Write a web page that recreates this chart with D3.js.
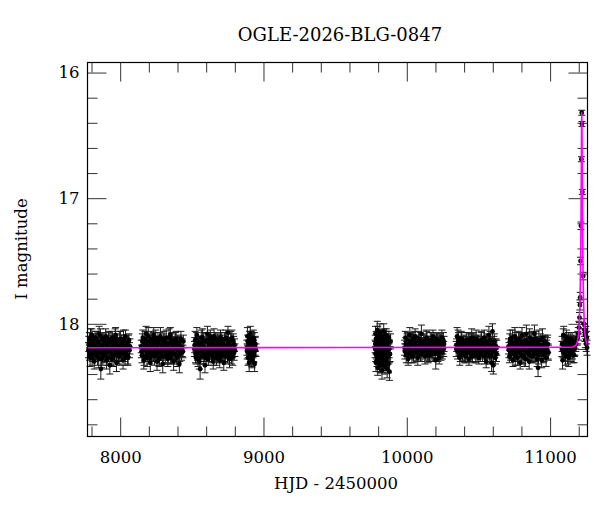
<!DOCTYPE html>
<html>
<head>
<meta charset="utf-8">
<script src="https://cdn.jsdelivr.net/npm/d3@7"></script>
<style>
  body { margin: 0; background: #fff; }
</style>
</head>
<body>
<svg id="chart" width="600" height="512"></svg>
<script>
// photometry: HJD - 2450000, I mag, error (season by season)
var hjd = [
  // 2017
  7779, 7785, 7790, 7796, 7802, 7807, 7813, 7819, 7825, 7830,
  7836, 7842, 7848, 7853, 7859, 7865, 7871, 7876, 7882, 7888,
  7894, 7899, 7905, 7911, 7917, 7922, 7928, 7934, 7940, 7945,
  7951, 7957, 7963, 7968, 7974, 7980, 7986, 7991, 7997, 8003,
  8009, 8014, 8020, 8026, 8032, 8037, 8043, 8049, 8055, 8061, 8068,
  // 2018
  8147, 8152, 8158, 8165, 8170, 8176, 8181, 8188, 8193, 8199,
  8205, 8210, 8216, 8223, 8228, 8234, 8239, 8246, 8251, 8257,
  8263, 8268, 8274, 8281, 8286, 8292, 8297, 8304, 8309, 8315,
  8321, 8326, 8332, 8339, 8344, 8350, 8355, 8362, 8367, 8373,
  8379, 8384, 8390, 8397, 8402, 8408, 8413, 8420, 8428, 8441,
  // 2019
  8518, 8523, 8529, 8535, 8540, 8546, 8552, 8558, 8563, 8569,
  8575, 8580, 8586, 8592, 8598, 8603, 8609, 8615, 8620, 8626,
  8632, 8638, 8643, 8649, 8655, 8660, 8666, 8672, 8678, 8683,
  8689, 8695, 8700, 8706, 8712, 8718, 8723, 8729, 8735, 8740,
  8746, 8752, 8756, 8763, 8769, 8775, 8780, 8786, 8792, 8801,
  // 2020
  8884, 8888, 8892, 8896, 8900, 8904, 8908, 8912, 8916, 8920,
  8924, 8929, 8933, 8938, 8943, 8948,
  // 2022
  9779, 9782, 9785, 9788, 9791, 9794, 9797, 9800, 9803, 9806,
  9809, 9812, 9815, 9818, 9821, 9824, 9827, 9830, 9833, 9836,
  9839, 9842, 9845, 9848, 9851, 9854, 9857, 9860, 9863, 9866,
  9869, 9872, 9875, 9879, 9883, 9887,
  // 2023
  9984, 9990, 9996, 10002, 10009, 10015, 10021, 10027, 10033, 10040,
  10046, 10052, 10058, 10065, 10071, 10077, 10083, 10090, 10096, 10102,
  10108, 10115, 10121, 10127, 10133, 10139, 10146, 10152, 10158, 10164,
  10171, 10177, 10183, 10189, 10195, 10202, 10208, 10214, 10220, 10226,
  10233, 10239, 10245, 10252, 10260,
  // 2024
  10345, 10351, 10358, 10364, 10370, 10377, 10383, 10389, 10396, 10402,
  10408, 10415, 10421, 10427, 10434, 10440, 10446, 10453, 10459, 10465,
  10472, 10478, 10484, 10491, 10497, 10503, 10510, 10516, 10522, 10529,
  10535, 10541, 10548, 10554, 10560, 10567, 10573, 10579, 10586, 10592,
  10598, 10604, 10611, 10618, 10628,
  // 2025
  10710, 10716, 10722, 10729, 10735, 10741, 10747, 10754, 10760, 10766,
  10772, 10779, 10785, 10791, 10797, 10804, 10810, 10816, 10822, 10829,
  10835, 10841, 10847, 10854, 10860, 10866, 10872, 10879, 10885, 10891,
  10897, 10904, 10910, 10916, 10922, 10929, 10935, 10941, 10947, 10954,
  10960, 10966, 10972, 10980, 10988,
  // 2026 baseline
  11082, 11087, 11092, 11098, 11103, 11108, 11114, 11119, 11124, 11130,
  11135, 11140, 11146, 11151, 11156, 11162, 11167, 11173, 11180, 11188,
  // 2026 event
  11193, 11197, 11201, 11205, 11208, 11210, 11212.5, 11215.2, 11218.5, 11221,
  11222, 11225, 11231, 11236, 11240, 11243, 11246, 11249, 11252, 11255, 11258
];

var mag = [
  18.21, 18.12, 18.27, 18.17, 18.09, 18.24, 18.15, 18.30, 18.11, 18.22,
  18.19, 18.26, 18.14, 18.08, 18.23, 18.36, 18.28, 18.12, 18.20, 18.25,
  18.15, 18.10, 18.29, 18.18, 18.22, 18.13, 18.33, 18.19, 18.24, 18.11,
  18.27, 18.16, 18.21, 18.09, 18.31, 18.14, 18.23, 18.18, 18.26, 18.12,
  18.20, 18.17, 18.29, 18.15, 18.24, 18.10, 18.22, 18.19, 18.27, 18.13, 18.18,

  18.18, 18.25, 18.11, 18.29, 18.16, 18.21, 18.08, 18.27, 18.14, 18.23,
  18.19, 18.31, 18.12, 18.24, 18.17, 18.09, 18.26, 18.15, 18.22, 18.30,
  18.13, 18.20, 18.27, 18.10, 18.23, 18.18, 18.32, 18.14, 18.21, 18.26,
  18.11, 18.19, 18.28, 18.16, 18.22, 18.09, 18.25, 18.13, 18.20, 18.30,
  18.17, 18.24, 18.12, 18.27, 18.15, 18.21, 18.32, 18.18, 18.23, 18.14,

  18.20, 18.13, 18.27, 18.09, 18.23, 18.17, 18.30, 18.36, 18.15, 18.22,
  18.11, 18.26, 18.19, 18.33, 18.14, 18.24, 18.08, 18.28, 18.18, 18.21,
  18.12, 18.25, 18.16, 18.30, 18.10, 18.23, 18.19, 18.27, 18.13, 18.22,
  18.17, 18.29, 18.11, 18.24, 18.15, 18.20, 18.31, 18.12, 18.26, 18.18,
  18.22, 18.07, 18.14, 18.28, 18.19, 18.23, 18.11, 18.26, 18.16, 18.21,

  18.19, 18.10, 18.27, 18.15, 18.31, 18.22, 18.08, 18.25, 18.13, 18.29,
  18.18, 18.11, 18.24, 18.32, 18.16, 18.21,

  18.20, 18.08, 18.31, 18.14, 18.26, 18.05, 18.35, 18.18, 18.11, 18.29,
  18.23, 18.07, 18.33, 18.16, 18.27, 18.10, 18.37, 18.21, 18.13, 18.30,
  18.06, 18.25, 18.17, 18.34, 18.12, 18.28, 18.09, 18.22, 18.36, 18.15,
  18.19, 18.32, 18.11, 18.38, 18.24, 18.14,

  18.19, 18.11, 18.25, 18.15, 18.28, 18.20, 18.09, 18.23, 18.17, 18.13,
  18.26, 18.18, 18.10, 18.22, 18.15, 18.27, 18.12, 18.20, 18.24, 18.08,
  18.17, 18.21, 18.14, 18.26, 18.19, 18.11, 18.23, 18.16, 18.25, 18.13,
  18.20, 18.18, 18.10, 18.24, 18.15, 18.29, 18.12, 18.21, 18.17, 18.27,
  18.14, 18.22, 18.11, 18.19, 18.16,

  18.20, 18.10, 18.11, 18.15, 18.27, 18.18, 18.12, 18.22, 18.16, 18.25,
  18.19, 18.13, 18.23, 18.17, 18.28, 18.14, 18.21, 18.11, 18.26, 18.18,
  18.15, 18.22, 18.12, 18.24, 18.19, 18.27, 18.16, 18.21, 18.13, 18.25,
  18.18, 18.11, 18.23, 18.30, 18.15, 18.20, 18.09, 18.26, 18.17, 18.31,
  18.06, 18.33, 18.14, 18.27, 18.19,

  18.18, 18.26, 18.12, 18.22, 18.15, 18.29, 18.19, 18.10, 18.24, 18.16,
  18.27, 18.13, 18.21, 18.31, 18.17, 18.09, 18.25, 18.20, 18.14, 18.28,
  18.08, 18.23, 18.18, 18.30, 18.15, 18.21, 18.12, 18.26, 18.19, 18.08,
  18.24, 18.16, 18.28, 18.35, 18.13, 18.22, 18.18, 18.29, 18.11, 18.25,
  18.20, 18.15, 18.27, 18.17, 18.23,

  18.20, 18.29, 18.09, 18.23, 18.17, 18.26, 18.11, 18.21, 18.15, 18.27,
  18.19, 18.12, 18.24, 18.17, 18.22, 18.14, 18.25, 18.18, 18.16, 18.12,

  18.11, 18.08, 18.03, 17.95, 17.85, 17.79, 17.50, 17.22, 16.69, 16.32,
  16.41, 16.95, 17.62, 18.00, 18.05, 18.09, 18.13, 18.07, 18.16, 18.11, 18.19
];

var err = [
  .06, .05, .07, .06, .05, .06, .07, .06, .05, .06,
  .06, .07, .05, .06, .06, .08, .07, .05, .06, .06,
  .05, .06, .07, .06, .05, .06, .07, .06, .06, .05,
  .07, .06, .05, .06, .07, .06, .06, .05, .07, .06,
  .06, .05, .07, .06, .06, .05, .06, .07, .06, .05, .06,

  .05, .06, .06, .07, .05, .06, .06, .07, .06, .05,
  .06, .07, .06, .05, .06, .06, .07, .05, .06, .07,
  .06, .05, .06, .07, .06, .05, .07, .06, .05, .06,
  .06, .07, .06, .05, .06, .06, .07, .06, .05, .07,
  .06, .05, .06, .07, .06, .05, .07, .06, .06, .05,

  .06, .07, .05, .06, .06, .07, .06, .08, .05, .06,
  .07, .06, .05, .06, .07, .06, .06, .05, .07, .06,
  .05, .06, .07, .06, .06, .05, .07, .06, .05, .06,
  .07, .06, .06, .05, .06, .07, .06, .05, .06, .07,
  .06, .05, .06, .07, .06, .05, .06, .07, .06, .05,

  .06, .07, .06, .05, .07, .06, .06, .05, .07, .06,
  .05, .06, .07, .06, .06, .05,

  .07, .06, .07, .06, .05, .07, .06, .07, .06, .05,
  .06, .07, .06, .07, .06, .05, .07, .06, .06, .07,
  .06, .05, .07, .06, .06, .07, .05, .06, .07, .06,
  .06, .07, .05, .07, .06, .06,

  .06, .05, .06, .07, .05, .06, .06, .05, .07, .06,
  .05, .06, .06, .07, .05, .06, .06, .05, .06, .07,
  .06, .05, .06, .06, .07, .05, .06, .06, .05, .06,
  .07, .06, .05, .06, .06, .07, .05, .06, .06, .05,
  .06, .07, .06, .05, .06,

  .06, .07, .06, .05, .06, .06, .05, .07, .06, .06,
  .05, .06, .07, .06, .05, .06, .06, .07, .05, .06,
  .06, .05, .07, .06, .06, .05, .06, .07, .06, .05,
  .06, .06, .07, .05, .06, .06, .07, .06, .05, .07,
  .06, .07, .06, .05, .06,

  .06, .05, .07, .06, .06, .05, .06, .07, .06, .05,
  .06, .07, .06, .05, .06, .06, .07, .05, .06, .06,
  .07, .06, .05, .06, .07, .06, .06, .05, .06, .07,
  .06, .05, .06, .07, .08, .06, .05, .06, .07, .06,
  .06, .05, .07, .06, .06,

  .06, .07, .05, .06, .06, .07, .06, .05, .06, .07,
  .06, .05, .06, .07, .06, .05, .06, .07, .06, .05,

  .05, .05, .05, .04, .04, .04, .03, .03, .02, .02,
  .02, .02, .03, .04, .05, .05, .06, .05, .06, .05, .06
];

// second exposure of each night, same seasons
var hjdB = [
  7781, 7787, 7793, 7799, 7804, 7810, 7816, 7822, 7827, 7833,
  7839, 7845, 7850, 7856, 7862, 7868, 7873, 7879, 7885, 7891,
  7896, 7902, 7908, 7914, 7919, 7925, 7931, 7937, 7942, 7948,
  7954, 7960, 7965, 7971, 7977, 7983, 7988, 7994, 8000, 8006,
  8011, 8017, 8023, 8029, 8034, 8040, 8046, 8052, 8058, 8065,

  8149, 8155, 8161, 8167, 8173, 8179, 8184, 8190, 8196, 8202,
  8207, 8213, 8219, 8225, 8231, 8236, 8242, 8248, 8254, 8260,
  8265, 8271, 8277, 8283, 8289, 8294, 8300, 8306, 8312, 8318,
  8323, 8329, 8335, 8341, 8347, 8352, 8358, 8364, 8370, 8376,
  8381, 8387, 8393, 8399, 8405, 8410, 8416, 8424, 8433, 8438,

  8520, 8526, 8532, 8537, 8543, 8549, 8555, 8560, 8566, 8572,
  8578, 8583, 8589, 8595, 8600, 8606, 8612, 8618, 8623, 8629,
  8635, 8640, 8646, 8652, 8658, 8663, 8669, 8675, 8680, 8686,
  8692, 8698, 8703, 8709, 8715, 8720, 8726, 8732, 8738, 8743,
  8749, 8754, 8759, 8766, 8772, 8777, 8783, 8789, 8795, 8798,

  8886, 8890, 8894, 8898, 8902, 8906, 8910, 8914, 8918, 8922,
  8927, 8931, 8936, 8941,

  9780, 9783, 9786, 9789, 9792, 9795, 9798, 9801, 9804, 9807,
  9810, 9813, 9816, 9819, 9822, 9825, 9828, 9831, 9834, 9837,
  9840, 9843, 9846, 9849, 9852, 9855, 9858, 9861, 9864, 9867,
  9871, 9877,

  9987, 9993, 9999, 10005, 10012, 10018, 10024, 10030, 10036, 10043,
  10049, 10055, 10061, 10068, 10074, 10080, 10086, 10093, 10099, 10105,
  10111, 10118, 10124, 10130, 10136, 10142, 10149, 10155, 10161, 10167,
  10174, 10180, 10186, 10192, 10198, 10205, 10211, 10217, 10223, 10229,
  10236, 10242, 10248, 10255, 10258,

  10348, 10354, 10361, 10367, 10373, 10380, 10386, 10392, 10399, 10405,
  10411, 10418, 10424, 10430, 10437, 10443, 10449, 10456, 10462, 10468,
  10475, 10481, 10487, 10494, 10500, 10506, 10513, 10519, 10525, 10532,
  10538, 10544, 10551, 10557, 10563, 10570, 10576, 10582, 10589, 10595,
  10601, 10607, 10614, 10622, 10626,

  10713, 10719, 10725, 10732, 10738, 10744, 10750, 10757, 10763, 10769,
  10775, 10782, 10788, 10794, 10800, 10807, 10813, 10819, 10825, 10832,
  10838, 10844, 10850, 10857, 10863, 10869, 10875, 10882, 10888, 10894,
  10900, 10907, 10913, 10919, 10925, 10932, 10938, 10944, 10950, 10957,
  10963, 10969, 10975, 10983, 10986,

  11084, 11090, 11095, 11100, 11106, 11111, 11116, 11122, 11127, 11132,
  11138, 11143, 11148, 11154, 11159, 11165, 11170, 11176
];

var magB = [
  18.16, 18.24, 18.11, 18.20, 18.27, 18.14, 18.22, 18.18, 18.25, 18.12,
  18.21, 18.15, 18.28, 18.19, 18.10, 18.23, 18.17, 18.26, 18.13, 18.21,
  18.24, 18.16, 18.19, 18.27, 18.12, 18.22, 18.15, 18.20, 18.28, 18.14,
  18.18, 18.25, 18.11, 18.23, 18.17, 18.21, 18.26, 18.13, 18.19, 18.24,
  18.15, 18.22, 18.12, 18.18, 18.27, 18.16, 18.20, 18.25, 18.14, 18.21,

  18.22, 18.14, 18.19, 18.26, 18.12, 18.21, 18.17, 18.24, 18.10, 18.20,
  18.27, 18.15, 18.23, 18.18, 18.13, 18.25, 18.21, 18.11, 18.19, 18.24,
  18.16, 18.28, 18.13, 18.22, 18.17, 18.20, 18.26, 18.12, 18.18, 18.23,
  18.15, 18.21, 18.25, 18.11, 18.19, 18.27, 18.14, 18.22, 18.17, 18.24,
  18.20, 18.13, 18.26, 18.18, 18.21, 18.15, 18.24, 18.12, 18.19, 18.22,

  18.17, 18.24, 18.12, 18.21, 18.28, 18.15, 18.19, 18.26, 18.11, 18.22,
  18.18, 18.14, 18.25, 18.20, 18.27, 18.13, 18.21, 18.16, 18.24, 18.10,
  18.19, 18.23, 18.15, 18.27, 18.20, 18.12, 18.22, 18.17, 18.25, 18.14,
  18.21, 18.18, 18.26, 18.13, 18.23, 18.16, 18.20, 18.24, 18.11, 18.19,
  18.25, 18.15, 18.22, 18.18, 18.12, 18.27, 18.20, 18.14, 18.23, 18.17,

  18.22, 18.14, 18.20, 18.26, 18.12, 18.17, 18.23, 18.19, 18.28, 18.15,
  18.21, 18.25, 18.13, 18.18,

  18.16, 18.24, 18.12, 18.21, 18.29, 18.18, 18.09, 18.26, 18.14, 18.22,
  18.31, 18.17, 18.11, 18.25, 18.20, 18.33, 18.13, 18.23, 18.28, 18.15,
  18.19, 18.10, 18.27, 18.22, 18.16, 18.30, 18.13, 18.24, 18.18, 18.21,
  18.26, 18.20,

  18.22, 18.16, 18.20, 18.13, 18.24, 18.18, 18.14, 18.21, 18.26, 18.17,
  18.12, 18.22, 18.19, 18.15, 18.23, 18.18, 18.21, 18.13, 18.16, 18.24,
  18.20, 18.14, 18.19, 18.22, 18.12, 18.17, 18.25, 18.20, 18.15, 18.21,
  18.13, 18.23, 18.18, 18.16, 18.22, 18.19, 18.14, 18.24, 18.20, 18.15,
  18.21, 18.17, 18.23, 18.13, 18.20,

  18.17, 18.22, 18.14, 18.20, 18.25, 18.12, 18.19, 18.23, 18.15, 18.21,
  18.26, 18.16, 18.20, 18.13, 18.23, 18.18, 18.24, 18.15, 18.21, 18.12,
  18.19, 18.25, 18.17, 18.22, 18.14, 18.20, 18.24, 18.13, 18.19, 18.22,
  18.16, 18.26, 18.18, 18.14, 18.23, 18.17, 18.21, 18.13, 18.25, 18.19,
  18.22, 18.15, 18.20, 18.18, 18.24,

  18.21, 18.14, 18.24, 18.18, 18.11, 18.22, 18.16, 18.26, 18.13, 18.20,
  18.17, 18.23, 18.12, 18.19, 18.25, 18.15, 18.21, 18.27, 18.18, 18.13,
  18.22, 18.16, 18.24, 18.11, 18.20, 18.26, 18.17, 18.14, 18.23, 18.19,
  18.12, 18.21, 18.15, 18.25, 18.18, 18.13, 18.22, 18.17, 18.20, 18.24,
  18.14, 18.21, 18.19, 18.16, 18.22,

  18.16, 18.22, 18.09, 18.18, 18.24, 18.14, 18.20, 18.26, 18.12, 18.19,
  18.23, 18.16, 18.21, 18.13, 18.25, 18.18, 18.20, 18.15
];

var errB = [
  .06, .05, .07, .06, .06, .05, .06, .07, .05, .06,
  .06, .05, .07, .06, .06, .05, .06, .07, .05, .06,
  .06, .05, .07, .06, .06, .05, .06, .07, .05, .06,
  .06, .05, .07, .06, .06, .05, .06, .07, .05, .06,
  .06, .05, .07, .06, .06, .05, .06, .07, .05, .06,

  .05, .06, .06, .07, .06, .05, .06, .06, .07, .05,
  .05, .06, .06, .07, .06, .05, .06, .06, .07, .05,
  .05, .06, .06, .07, .06, .05, .06, .06, .07, .05,
  .05, .06, .06, .07, .06, .05, .06, .06, .07, .05,
  .05, .06, .06, .07, .06, .05, .06, .06, .07, .05,

  .06, .07, .05, .06, .06, .05, .07, .06, .06, .05,
  .06, .07, .05, .06, .06, .05, .07, .06, .06, .05,
  .06, .07, .05, .06, .06, .05, .07, .06, .06, .05,
  .06, .07, .05, .06, .06, .05, .07, .06, .06, .05,
  .06, .07, .05, .06, .06, .05, .07, .06, .06, .05,

  .06, .05, .07, .06, .06, .07, .05, .06, .06, .07,
  .06, .05, .06, .07,

  .07, .06, .06, .07, .05, .06, .07, .06, .06, .07,
  .07, .06, .06, .07, .05, .06, .07, .06, .06, .07,
  .07, .06, .06, .07, .05, .06, .07, .06, .06, .07,
  .06, .07,

  .06, .05, .06, .06, .07, .05, .06, .06, .05, .06,
  .06, .05, .06, .06, .07, .05, .06, .06, .05, .06,
  .06, .05, .06, .06, .07, .05, .06, .06, .05, .06,
  .06, .05, .06, .06, .07, .05, .06, .06, .05, .06,
  .06, .07, .05, .06, .06,

  .05, .06, .07, .06, .05, .06, .06, .07, .06, .05,
  .05, .06, .07, .06, .05, .06, .06, .07, .06, .05,
  .05, .06, .07, .06, .05, .06, .06, .07, .06, .05,
  .05, .06, .07, .06, .05, .06, .06, .07, .06, .05,
  .06, .05, .07, .06, .06,

  .06, .06, .05, .07, .06, .05, .06, .07, .06, .06,
  .06, .06, .05, .07, .06, .05, .06, .07, .06, .06,
  .06, .06, .05, .07, .06, .05, .06, .07, .06, .06,
  .06, .06, .05, .07, .06, .05, .06, .07, .06, .06,
  .05, .06, .06, .07, .06,

  .06, .05, .07, .06, .06, .05, .07, .06, .05, .06,
  .07, .06, .05, .06, .06, .07, .06, .05
];

// point-lens model curve
var modelHjd = [7772, 11150, 11180, 11190, 11195, 11200, 11205, 11208, 11211, 11213,
                11215, 11216, 11217, 11218, 11219, 11220, 11221, 11222, 11223, 11224,
                11225, 11226, 11227, 11229, 11231, 11234, 11237, 11242, 11247, 11252, 11261];
var modelMag = [18.19, 18.187, 18.170, 18.143, 18.112, 18.065, 17.949, 17.838, 17.666, 17.500,
                17.275, 17.133, 16.966, 16.776, 16.572, 16.393, 16.315, 16.393, 16.572, 16.776,
                16.966, 17.133, 17.275, 17.500, 17.666, 17.838, 17.949, 18.065, 18.112, 18.143, 18.169];

var xMajor = [8000, 9000, 10000, 11000];
var xMinor = [7800, 8200, 8400, 8600, 8800, 9200, 9400, 9600, 9800,
              10200, 10400, 10600, 10800, 11200];
var yMajor = [16, 17, 18];
var yMinor = [16.2, 16.4, 16.6, 16.8, 17.2, 17.4, 17.6, 17.8, 18.2, 18.4, 18.6, 18.8];

var TITLE = "OGLE-2026-BLG-0847";
var FONT = "'DejaVu Serif', 'Liberation Serif', serif";
var MODEL_COL = "#ff00ff";

var LEFT = 87.5, TOP = 62.5, W = 500, H = 374;

var svg = d3.select("#chart");
var g = svg.append("g").attr("transform", "translate(" + LEFT + "," + TOP + ")");

var x = d3.scaleLinear().domain([7772, 11261]).range([0, W]);
var y = d3.scaleLinear().domain([15.92, 18.897]).range([0, H]);

function styleAxis(sel) {
    sel.attr("font-family", FONT).attr("font-size", 16.5);
    sel.select(".domain").remove();
    sel.selectAll("line").attr("stroke", "#333");
    sel.selectAll("text").attr("fill", "#000");
}

// ticks on all four sides, pointing in
g.append("g").attr("transform", "translate(0," + H + ")")
    .call(d3.axisBottom(x).tickValues(xMajor).tickSize(-19).tickPadding(15).tickFormat(d3.format("d")))
    .call(styleAxis);
g.append("g").attr("transform", "translate(0," + H + ")")
    .call(d3.axisBottom(x).tickValues(xMinor).tickSize(-10).tickFormat(""))
    .call(styleAxis);
g.append("g")
    .call(d3.axisTop(x).tickValues(xMajor).tickSize(-19).tickFormat(""))
    .call(styleAxis);
g.append("g")
    .call(d3.axisTop(x).tickValues(xMinor).tickSize(-10).tickFormat(""))
    .call(styleAxis);
g.append("g")
    .call(d3.axisLeft(y).tickValues(yMajor).tickSize(-19).tickPadding(8).tickFormat(d3.format("d")))
    .call(styleAxis);
g.append("g")
    .call(d3.axisLeft(y).tickValues(yMinor).tickSize(-10).tickFormat(""))
    .call(styleAxis);
g.append("g").attr("transform", "translate(" + W + ",0)")
    .call(d3.axisRight(y).tickValues(yMajor).tickSize(-19).tickFormat(""))
    .call(styleAxis);
g.append("g").attr("transform", "translate(" + W + ",0)")
    .call(d3.axisRight(y).tickValues(yMinor).tickSize(-10).tickFormat(""))
    .call(styleAxis);

var allT = hjd.concat(hjdB), allM = mag.concat(magB), allE = err.concat(errB);
var pts = allT.map(function(t, i) { return { t: t, m: allM[i], e: allE[i] }; });

// error bars with caps
var bars = g.append("g").attr("stroke", "#1a1a1a").attr("stroke-width", 1);
bars.selectAll(".eb")
    .data(pts)
    .enter()
    .append("path")
    .attr("fill", "none")
    .attr("d", function(d) {
        var px = x(d.t), y0 = y(d.m - d.e), y1 = y(d.m + d.e);
        return "M" + px + "," + y0 + "V" + y1 +
               "M" + (px - 3.5) + "," + y0 + "H" + (px + 3.5) +
               "M" + (px - 3.5) + "," + y1 + "H" + (px + 3.5);
    });

g.append("g").selectAll("circle")
    .data(pts)
    .enter()
    .append("circle")
    .attr("cx", function(d) { return x(d.t); })
    .attr("cy", function(d) { return y(d.m); })
    .attr("r", 2.4)
    .attr("fill", "#000");

var line = d3.line()
    .x(function(d, i) { return x(d); })
    .y(function(d, i) { return y(modelMag[i]); })
    .curve(d3.curveMonotoneX);

g.append("path")
    .datum(modelHjd)
    .attr("fill", "none")
    .attr("stroke", MODEL_COL)
    .attr("stroke-width", 1.6)
    .attr("d", line);

// frame
g.append("rect")
    .attr("width", W).attr("height", H)
    .attr("fill", "none")
    .attr("stroke", "#000")
    .attr("stroke-width", 1.2);

// titles
svg.append("text")
    .attr("x", 340).attr("y", 41)
    .attr("text-anchor", "middle")
    .style("font-family", FONT).style("font-size", "18px")
    .text(TITLE);

svg.append("text")
    .attr("x", 336).attr("y", 489)
    .attr("text-anchor", "middle")
    .style("font-family", FONT).style("font-size", "16.5px")
    .text("HJD - 2450000");

svg.append("text")
    .attr("transform", "translate(27,249) rotate(-90)")
    .attr("text-anchor", "middle")
    .style("font-family", FONT).style("font-size", "16.5px")
    .text("I magnitude");
</script>
</body>
</html>
